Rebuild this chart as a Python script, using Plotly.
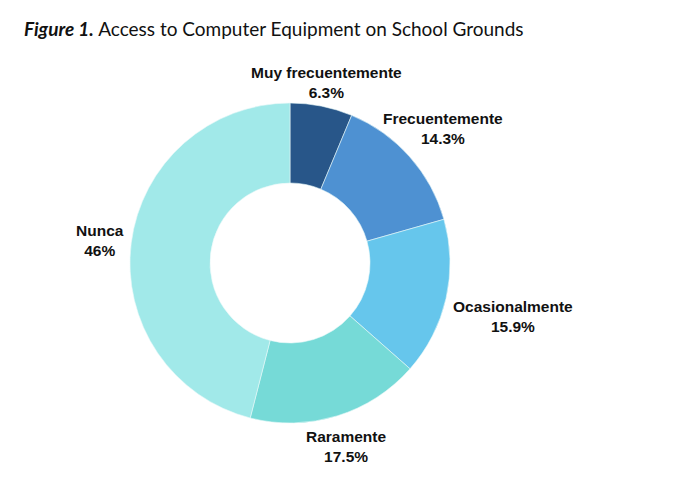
import plotly.graph_objects as go

categories = ["Muy frecuentemente", "Frecuentemente", "Ocasionalmente", "Raramente", "Nunca"]
values = [6.3, 14.3, 15.9, 17.5, 46]
pct_labels = ["6.3%", "14.3%", "15.9%", "17.5%", "46%"]
colors = ["#285689", "#4e91d2", "#66c6ec", "#76dad7", "#a1e9e9"]

W, H = 682, 488
OFF = 8  # page body margin
# label centres (px) picked to sit like the original layout
label_px = [(326, 82), (443, 128), (513, 316), (346, 446), (100, 240)]

fig = go.Figure(go.Pie(
    labels=categories,
    values=values,
    textinfo="none",
    hole=0.5,
    sort=False,
    direction="clockwise",
    rotation=0,
    marker=dict(colors=colors, line=dict(color="#e8f8f8", width=0.6)),
    domain=dict(x=[(120 - OFF) / W, (460 - OFF) / W],
                y=[1 - (423 - OFF) / H, 1 - (103 - OFF) / H]),
    showlegend=False,
    hoverinfo="label+percent",
))

for cat, pct, (px, py) in zip(categories, pct_labels, label_px):
    fig.add_annotation(
        x=(px - OFF) / W, y=1 - (py - OFF) / H, xref="paper", yref="paper",
        text="<b>%s</b><br><b>%s</b>" % (cat, pct),
        showarrow=False, xanchor="center", yanchor="middle", align="center",
        font=dict(family="Liberation Sans, Arial", size=15.5, color="#111111"),
    )

fig.add_annotation(
    x=(22 - OFF) / W, y=1 - (28 - OFF) / H, xref="paper", yref="paper",
    text="<b><i>Figure 1.</i></b> Access to Computer Equipment on School Grounds",
    showarrow=False, xanchor="left", yanchor="middle",
    font=dict(family="Lato, Open Sans", size=19, color="#111111"),
)

fig.update_layout(
    width=W, height=H,
    margin=dict(l=0, r=0, t=0, b=0),
    paper_bgcolor="white",
)

fig.write_html("out.html")
